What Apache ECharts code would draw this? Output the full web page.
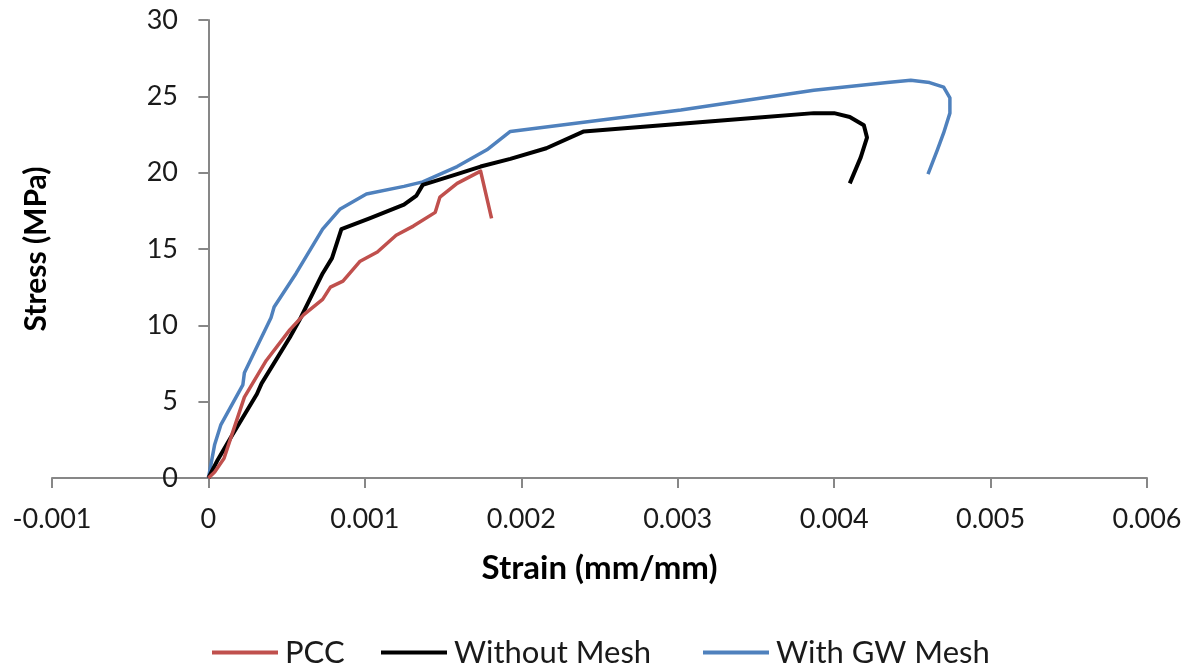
<!DOCTYPE html>
<html>
<head>
<meta charset="utf-8">
<script src="https://cdn.jsdelivr.net/npm/echarts@6/dist/echarts.min.js"></script>
<style>
  html, body { margin: 0; padding: 0; background: #fff; }
  #chart { width: 1196px; height: 672px; }
</style>
</head>
<body>
<div id="chart"></div>
<script>
// Stress–strain curves (strain in mm/mm, stress in MPa)
const pccStrain = [0, 0.00004, 0.0001, 0.00023, 0.00037, 0.00052, 0.00061, 0.00073, 0.00078, 0.00086,
  0.00097, 0.00108, 0.0012, 0.00131, 0.00145, 0.00148, 0.00159, 0.00174, 0.00181];
const pccStress = [0, 0.4, 1.3, 5.3, 7.7, 9.7, 10.7, 11.7, 12.5, 12.9,
  14.2, 14.8, 15.9, 16.5, 17.4, 18.4, 19.3, 20.1, 17.0];

const noMeshStrain = [0, 0.00006, 0.00014, 0.00031, 0.00034, 0.00052, 0.00059, 0.00073, 0.00079, 0.00085,
  0.00103, 0.00125, 0.00133, 0.00137, 0.00159, 0.00174, 0.00193, 0.00216, 0.0024, 0.00302,
  0.0035, 0.00387, 0.004, 0.0041, 0.00419, 0.00421, 0.00417, 0.0041];
const noMeshStress = [0, 1.2, 2.6, 5.5, 6.2, 9.2, 10.5, 13.4, 14.4, 16.3,
  17.0, 17.9, 18.5, 19.2, 19.9, 20.4, 20.9, 21.6, 22.7, 23.2,
  23.6, 23.9, 23.9, 23.65, 23.1, 22.3, 21.0, 19.3];

const gwMeshStrain = [0, 0.00004, 0.00008, 0.00022, 0.00023, 0.00031, 0.0004, 0.00042, 0.00056, 0.00073,
  0.00084, 0.00101, 0.00125, 0.00137, 0.00159, 0.00178, 0.00193, 0.00302, 0.00387, 0.00434,
  0.00449, 0.00461, 0.0047, 0.00474, 0.00474, 0.0047, 0.00466, 0.0046];
const gwMeshStress = [0, 2.2, 3.5, 6.1, 6.9, 8.6, 10.5, 11.2, 13.4, 16.3,
  17.6, 18.6, 19.1, 19.4, 20.4, 21.5, 22.7, 24.1, 25.4, 25.9,
  26.05, 25.9, 25.6, 24.9, 23.9, 22.6, 21.5, 19.9];

const seriesNames = ['PCC', 'Without Mesh', 'With GW Mesh'];
const seriesColors = ['#C0504D', '#000000', '#4F81BD'];

const xTicks = { min: -0.001, max: 0.006, step: 0.001 };
const yTicks = { min: 0, max: 30, step: 5 };

function pairs(xs, ys) {
  return xs.map((x, i) => [x, ys[i]]);
}

const FONT = 'Lato, "Open Sans", sans-serif';
const TEXT = '#1a1a1a';
const AXIS = '#878787';

const chart = echarts.init(document.getElementById('chart'), null, { renderer: 'canvas' });

// one legend block per series so each entry can be placed on its own
function legendAt(name, left) {
  return {
    data: [name],
    left: left,
    top: 637,
    padding: 0,
    orient: 'horizontal',
    icon: 'rect',
    itemWidth: 66,
    itemHeight: 4,
    itemGap: 0,
    selectedMode: false,
    textStyle: { fontFamily: FONT, fontSize: 31, color: TEXT, padding: [0, 0, 0, 2] }
  };
}

chart.setOption({
  animation: false,
  backgroundColor: '#ffffff',
  grid: { left: 52, right: 49, top: 20, bottom: 194, containLabel: false, outerBoundsMode: 'none' },
  legend: [
    legendAt(seriesNames[0], 212),
    legendAt(seriesNames[1], 381),
    legendAt(seriesNames[2], 703)
  ],
  xAxis: {
    type: 'value',
    min: xTicks.min,
    max: xTicks.max,
    interval: xTicks.step,
    name: 'Strain (mm/mm)',
    nameLocation: 'middle',
    nameGap: 74,
    nameMoveOverlap: false,
    nameTextStyle: { fontFamily: FONT, fontSize: 33, fontWeight: 'bold', color: '#000' },
    axisLine: { onZero: true, lineStyle: { color: AXIS, width: 2 } },
    axisTick: { show: true, inside: false, length: 10, lineStyle: { color: AXIS, width: 2 } },
    axisLabel: {
      margin: 28,
      fontFamily: FONT,
      fontSize: 27,
      color: TEXT,
      formatter: v => (Math.abs(v) < 1e-12 ? '0' : String(+v.toFixed(3)))
    },
    splitLine: { show: false }
  },
  yAxis: {
    type: 'value',
    min: yTicks.min,
    max: yTicks.max,
    interval: yTicks.step,
    name: 'Stress (MPa)',
    nameLocation: 'middle',
    nameGap: 1,
    nameRotate: 90,
    nameMoveOverlap: false,
    nameTextStyle: { fontFamily: FONT, fontSize: 30, fontWeight: 'bold', color: '#000' },
    axisLine: { show: true, onZero: true, lineStyle: { color: AXIS, width: 2 } },
    axisTick: { show: true, inside: false, length: 10, lineStyle: { color: AXIS, width: 2 } },
    // labels sit beside the axis line, which crosses at zero strain
    axisLabel: { margin: -126, fontFamily: FONT, fontSize: 27, color: TEXT },
    splitLine: { show: false }
  },
  series: [
    {
      name: seriesNames[0], type: 'line', data: pairs(pccStrain, pccStress),
      symbol: 'none', color: seriesColors[0],
      lineStyle: { width: 3.5, color: seriesColors[0], join: 'round' }, z: 3
    },
    {
      name: seriesNames[1], type: 'line', data: pairs(noMeshStrain, noMeshStress),
      symbol: 'none', color: seriesColors[1],
      lineStyle: { width: 4, color: seriesColors[1], join: 'round' }, z: 2
    },
    {
      name: seriesNames[2], type: 'line', data: pairs(gwMeshStrain, gwMeshStress),
      symbol: 'none', color: seriesColors[2],
      lineStyle: { width: 3.5, color: seriesColors[2], join: 'round' }, z: 1
    }
  ]
});
</script>
</body>
</html>
